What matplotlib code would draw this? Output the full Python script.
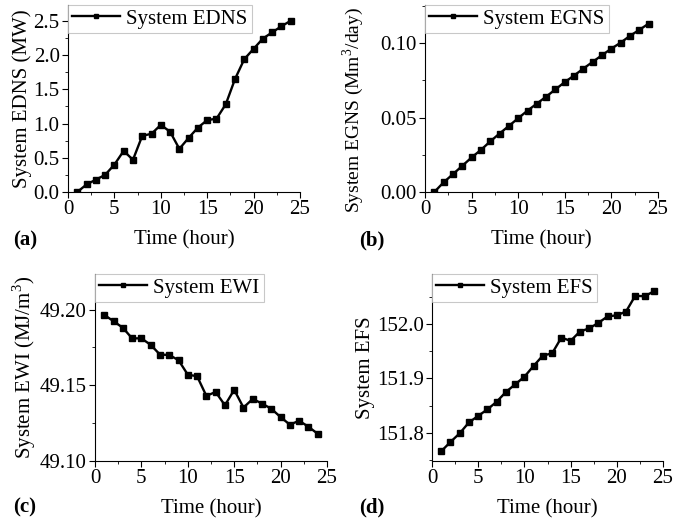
import matplotlib
matplotlib.use('Agg')
import matplotlib.pyplot as plt
from matplotlib.ticker import MultipleLocator

plt.rcParams['font.family'] = ['Liberation Serif', 'DejaVu Serif']
plt.rcParams['mathtext.fontset'] = 'custom'
plt.rcParams['mathtext.rm'] = 'Liberation Serif'

hours = list(range(1, 25))

edns = [0.0, 0.11, 0.18, 0.25, 0.40, 0.60, 0.47, 0.82, 0.85, 0.98, 0.88, 0.63,
        0.79, 0.94, 1.05, 1.07, 1.28, 1.65, 1.94, 2.09, 2.24, 2.33, 2.42, 2.50]
egns = [0.0, 0.0065, 0.0120, 0.0176, 0.0232, 0.0283, 0.0340, 0.0393, 0.0444, 0.0496,
        0.0547, 0.0594, 0.0641, 0.0690, 0.0739, 0.0783, 0.0830, 0.0875, 0.0920, 0.0964,
        0.1004, 0.1050, 0.1090, 0.1132]
ewi = [49.1965, 49.1923, 49.1880, 49.1810, 49.1810, 49.1767, 49.1703, 49.1700,
       49.1666, 49.1570, 49.1560, 49.1430, 49.1456, 49.1368, 49.1470, 49.1353,
       49.1410, 49.1379, 49.1345, 49.1290, 49.1240, 49.1266, 49.1226, 49.1180]
efs = [151.766, 151.783, 151.799, 151.819, 151.831, 151.843, 151.857, 151.875,
       151.889, 151.903, 151.923, 151.942, 151.946, 151.975, 151.969, 151.986,
       151.992, 152.002, 152.014, 152.016, 152.023, 152.052, 152.051, 152.060]

W, H = 692, 527
panels = [
    # data, legend, ylabel, ylabel size, ylim, major step, fmt, axes box px (l, t, r, b), tag, tag px
    (edns, 'System EDNS', 'System EDNS (MW)', 15, (0, 2.73), 0.5, '%.1f',
     (68, 5, 300, 192), '(a)', (13, 240)),
    (egns, 'System EGNS', 'System EGNS (Mm$^3$/day)', 14, (0, 0.1257), 0.05, '%.2f',
     (425, 5, 658, 192), '(b)', (359, 240)),
    (ewi, 'System EWI', 'System EWI (MJ/m$^3$)', 15, (49.10, 49.2235), 0.05, '%.2f',
     (95, 274, 327, 461), '(c)', (13, 507)),
    (efs, 'System EFS', 'System EFS', 15, (151.748, 152.092), 0.1, '%.1f',
     (432, 274, 663, 461), '(d)', (359, 507)),
]

fig = plt.figure(figsize=(W / 100, H / 100), dpi=100)

for data, name, ylab, ysize, ylim, major, fmt, box, tag, tagpos in panels:
    l, t, r, b = box
    ax = fig.add_axes([l / W, 1 - b / H, (r - l) / W, (b - t) / H])
    ax.plot(hours, data, color='black', lw=1.7, marker='s', ms=4.2, label=name)
    ax.set_xlim(0, 25)
    ax.set_ylim(*ylim)
    ax.xaxis.set_major_locator(MultipleLocator(5))
    ax.xaxis.set_minor_locator(MultipleLocator(2.5))
    ax.yaxis.set_major_locator(MultipleLocator(major))
    ax.yaxis.set_minor_locator(MultipleLocator(major / 2))
    ax.yaxis.set_major_formatter(plt.FormatStrFormatter(fmt))
    ax.spines['top'].set_visible(False)
    ax.spines['right'].set_visible(False)
    ax.tick_params(which='major', direction='out', length=4, width=0.8, labelsize=15, pad=2)
    ax.tick_params(which='minor', direction='out', length=2.5, width=0.6)
    ax.set_xlabel('Time (hour)', fontsize=15, labelpad=8)
    ax.set_ylabel(ylab, fontsize=ysize, labelpad=1)
    if tag == '(b)':
        # long label: centre it a little lower so it stays inside the figure
        ax.yaxis.set_label_coords(-0.255, 0.44)
    leg = ax.legend(loc='upper left', borderaxespad=0, fontsize=15, fancybox=False,
                    handlelength=2.3, handletextpad=0.3, borderpad=0.2,
                    markerscale=0.8)
    leg.get_frame().set_edgecolor('#bbbbbb')
    leg.get_frame().set_linewidth(0.8)
    fig.text(tagpos[0] / W, 1 - tagpos[1] / H, tag, fontsize=15,
             fontweight='bold', va='center', ha='left')

fig.savefig('out.png', dpi=100)
